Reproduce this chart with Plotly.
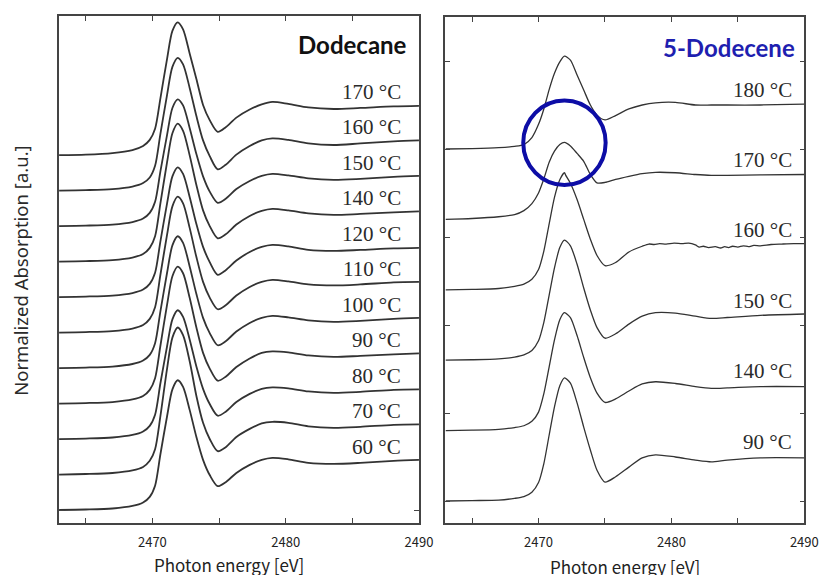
import plotly.graph_objects as go

# ---------------- Data ----------------
# Dodecane (left panel): energy grid [eV] and normalized absorption per temperature
E_left = [2463, 2465, 2467, 2468.5, 2469.3, 2469.8, 2470.2, 2470.6, 2471.1, 2471.5,
          2471.9, 2472.3, 2472.8, 2473.3, 2473.8, 2474.3, 2474.9, 2475.5, 2476.3, 2477.3,
          2478.2, 2479.0, 2480.2, 2481.7, 2483.6, 2485.6, 2488.1, 2490]
dodecane_temps = ["60 °C", "70 °C", "80 °C", "90 °C", "100 °C", "110 °C",
                  "120 °C", "140 °C", "150 °C", "160 °C", "170 °C"]
dodecane_60 = [0, 0.01, 0.03, 0.08, 0.15, 0.26, 0.48, 1.10, 1.85, 2.38, 2.56, 2.43, 1.97, 1.44,
               0.99, 0.69, 0.47, 0.55, 0.73, 0.89, 0.99, 1.03, 1.00, 0.93, 0.91, 0.93, 0.97, 0.99]
dodecane_70 = [0, 0.01, 0.03, 0.08, 0.15, 0.27, 0.50, 1.15, 2.09, 2.70, 2.90, 2.75, 2.23, 1.55,
               1.02, 0.70, 0.46, 0.54, 0.74, 0.90, 1.01, 1.04, 1.02, 0.95, 0.92, 0.94, 0.98, 0.99]
dodecane_80 = [0, 0.01, 0.03, 0.08, 0.15, 0.26, 0.48, 1.10, 1.83, 2.36, 2.54, 2.41, 1.96, 1.43,
               0.99, 0.69, 0.46, 0.54, 0.73, 0.89, 0.99, 1.02, 1.00, 0.94, 0.91, 0.93, 0.97, 0.98]
dodecane_90 = [0, 0.01, 0.03, 0.08, 0.15, 0.27, 0.50, 1.14, 1.95, 2.51, 2.70, 2.57, 2.08, 1.50,
               1.00, 0.69, 0.45, 0.53, 0.72, 0.89, 1.00, 1.03, 1.01, 0.95, 0.92, 0.94, 0.97, 0.99]
dodecane_100 = [0, 0.01, 0.03, 0.08, 0.15, 0.26, 0.49, 1.12, 1.88, 2.42, 2.60, 2.47, 2.00, 1.46,
                0.99, 0.69, 0.45, 0.53, 0.72, 0.89, 0.99, 1.03, 1.00, 0.94, 0.91, 0.93, 0.97, 0.99]
dodecane_110 = [0, 0.01, 0.03, 0.08, 0.15, 0.27, 0.50, 1.14, 1.93, 2.49, 2.68, 2.55, 2.06, 1.49,
                1.00, 0.69, 0.46, 0.54, 0.73, 0.90, 1.00, 1.04, 1.01, 0.95, 0.93, 0.95, 0.99, 1.00]
dodecane_120 = [0, 0.01, 0.03, 0.08, 0.15, 0.26, 0.48, 1.10, 1.85, 2.38, 2.56, 2.43, 1.97, 1.44,
                0.99, 0.69, 0.44, 0.53, 0.72, 0.89, 0.99, 1.03, 1.00, 0.93, 0.91, 0.93, 0.96, 0.97]
dodecane_140 = [0, 0.01, 0.03, 0.08, 0.15, 0.27, 0.50, 1.15, 1.96, 2.53, 2.72, 2.58, 2.09, 1.51,
                1.01, 0.70, 0.46, 0.54, 0.73, 0.90, 1.00, 1.04, 1.01, 0.95, 0.92, 0.94, 0.97, 0.99]
dodecane_150 = [0, 0.01, 0.03, 0.08, 0.15, 0.26, 0.48, 1.08, 1.80, 2.33, 2.50, 2.38, 1.93, 1.42,
                0.98, 0.68, 0.46, 0.54, 0.73, 0.89, 0.99, 1.03, 1.00, 0.94, 0.91, 0.93, 0.97, 0.99]
dodecane_160 = [0, 0.01, 0.03, 0.08, 0.15, 0.26, 0.49, 1.12, 1.89, 2.44, 2.62, 2.49, 2.02, 1.47,
                0.99, 0.68, 0.42, 0.51, 0.71, 0.88, 0.99, 1.03, 1.00, 0.93, 0.90, 0.93, 0.97, 0.99]
dodecane_170 = [0, 0.01, 0.04, 0.10, 0.18, 0.30, 0.52, 1.12, 1.90, 2.45, 2.62, 2.48, 2.00, 1.50,
                0.99, 0.69, 0.46, 0.55, 0.74, 0.90, 1.00, 1.05, 1.01, 0.94, 0.91, 0.93, 0.96, 0.97]
dodecane_spectra = [dodecane_60, dodecane_70, dodecane_80, dodecane_90, dodecane_100, dodecane_110,
                    dodecane_120, dodecane_140, dodecane_150, dodecane_160, dodecane_170]
dodecane_offsets = [0.0, 0.7, 1.4, 2.1, 2.8, 3.5, 4.2, 4.9, 5.6, 6.3, 7.0]

# 5-Dodecene (right panel)
E_right = [2463, 2465, 2467, 2468.2, 2468.9, 2469.5, 2470.0, 2470.4, 2470.8, 2471.2,
           2471.6, 2471.95, 2472.4, 2472.9, 2473.4, 2473.9, 2474.4, 2475.0, 2475.8, 2476.8,
           2477.8, 2478.8, 2480.3, 2481.8, 2483.0, 2484.2, 2486.7, 2490]
E_right_160 = [2463, 2465, 2467, 2468.2, 2468.9, 2469.5, 2470.0, 2470.4, 2470.8, 2471.2,
               2471.6, 2471.95, 2472.05, 2472.4, 2472.9, 2473.4, 2473.9, 2474.4, 2475.0, 2475.8,
               2476.8, 2477.8, 2478.3, 2478.7, 2479.1, 2479.6, 2480.2, 2480.8, 2481.3, 2481.8,
               2482.1, 2482.4, 2482.8, 2483.3, 2483.7, 2484.0, 2484.3, 2484.6, 2485.0, 2485.4,
               2485.8, 2486.2, 2486.7, 2487.5, 2488.3, 2489.2, 2490]
dodecene_temps = ["90 °C", "140 °C", "150 °C", "160 °C", "170 °C", "180 °C"]
dodecene_90 = [0, 0.01, 0.02, 0.06, 0.10, 0.20, 0.42, 0.85, 1.50, 2.14, 2.62, 2.80, 2.68, 2.23,
               1.68, 1.16, 0.70, 0.43, 0.55, 0.77, 0.98, 1.05, 1.00, 0.93, 0.89, 0.93, 0.98, 0.98]
dodecene_140 = [0, 0.01, 0.03, 0.07, 0.11, 0.21, 0.42, 0.84, 1.45, 2.06, 2.52, 2.68, 2.57, 2.16,
                1.66, 1.20, 0.85, 0.64, 0.72, 0.90, 1.06, 1.11, 1.07, 1.00, 0.96, 0.97, 1.00, 1.00]
dodecene_150 = [0, 0.01, 0.03, 0.07, 0.12, 0.22, 0.44, 0.86, 1.48, 2.10, 2.56, 2.73, 2.60, 2.18,
                1.64, 1.14, 0.74, 0.50, 0.60, 0.82, 1.00, 1.08, 1.07, 1.00, 0.95, 0.97, 1.02, 1.05]
dodecene_160 = [0, 0.01, 0.03, 0.08, 0.13, 0.24, 0.46, 0.88, 1.50, 2.10, 2.50, 2.66, 2.60, 2.42,
                2.05, 1.60, 1.15, 0.78, 0.55, 0.62, 0.86, 0.99, 1.04, 1.03, 1.05, 1.04, 1.06, 1.05,
                1.06, 1.02, 0.97, 0.99, 0.96, 0.98, 0.95, 0.98, 0.96, 0.99, 0.97, 1.00, 0.98,
                1.01, 1.00, 1.03, 1.04, 1.05, 1.05]
dodecene_170 = [0, 0.02, 0.06, 0.11, 0.20, 0.36, 0.60, 0.92, 1.30, 1.55, 1.70, 1.75, 1.67, 1.50,
                1.32, 1.02, 0.83, 0.84, 0.91, 0.98, 1.04, 1.07, 1.06, 1.02, 1.00, 1.00, 1.01, 1.02]
dodecene_180 = [0, 0.01, 0.03, 0.06, 0.10, 0.26, 0.56, 0.91, 1.35, 1.72, 1.98, 2.11, 2.02, 1.68,
                1.34, 1.00, 0.77, 0.66, 0.76, 0.91, 1.00, 1.05, 1.06, 1.00, 1.00, 1.00, 1.00, 1.02]
dodecene_spectra = [dodecene_90, dodecene_140, dodecene_150, dodecene_160, dodecene_170, dodecene_180]
dodecene_energies = [E_right, E_right, E_right, E_right_160, E_right, E_right]
dodecene_offsets = [0.0, 1.6, 3.2, 4.8, 6.4, 8.0]

x_tickvals = [2465, 2470, 2475, 2480, 2485, 2490]
x_ticktext = ["", "2470", "", "2480", "", "2490"]

# ---------------- Figure ----------------
PAGE_OFF = 8            # default body margin of the html page
W, H = 838 - PAGE_OFF, 575 - PAGE_OFF
fig = go.Figure()
line_col = "#333333"

for vals, off in zip(dodecane_spectra, dodecane_offsets):
    fig.add_trace(go.Scatter(x=E_left, y=[v + off for v in vals], mode="lines",
                             line=dict(color=line_col, width=1.8, shape="spline", smoothing=0.8),
                             xaxis="x", yaxis="y", showlegend=False, hoverinfo="skip"))
for ev, vals, off in zip(dodecene_energies, dodecene_spectra, dodecene_offsets):
    fig.add_trace(go.Scatter(x=ev, y=[v + off for v in vals], mode="lines",
                             line=dict(color=line_col, width=1.3, shape="spline", smoothing=0.7),
                             xaxis="x2", yaxis="y2", showlegend=False, hoverinfo="skip"))

def px_x(p):
    return (p - PAGE_OFF) / W

def px_y(p):
    return 1 - (p - PAGE_OFF) / H

axis_common = dict(showline=True, linecolor="#444444", linewidth=1.5, mirror="ticks",
                   ticks="inside", ticklen=5, tickwidth=1.2, tickcolor="#444444",
                   showgrid=False, zeroline=False)

fig.update_layout(
    width=W, height=H, margin=dict(l=0, r=0, t=0, b=0),
    paper_bgcolor="white", plot_bgcolor="white",
    xaxis=dict(domain=[px_x(60), px_x(426)], range=[2463, 2490], anchor="y",
               tickvals=x_tickvals, ticktext=x_ticktext, ticklabelstandoff=7,
               tickfont=dict(family="Noto Sans CJK JP", size=13, color="#222222"), **axis_common),
    yaxis=dict(domain=[px_y(523), px_y(16)], range=[-0.256, 9.744], anchor="x",
               tickvals=[0], showticklabels=False, **axis_common),
    xaxis2=dict(domain=[px_x(453), px_x(818)], range=[2463, 2490], anchor="y2",
                tickvals=x_tickvals, ticktext=x_ticktext, ticklabelstandoff=7,
                tickfont=dict(family="Noto Sans CJK JP", size=13, color="#222222"), **axis_common),
    yaxis2=dict(domain=[px_y(523), px_y(17)], range=[-0.5, 11.0], anchor="x2",
                tickvals=[0, 2, 4, 6, 8, 10], showticklabels=False, **axis_common),
)

ann = []
for t, off in zip(dodecane_temps, dodecane_offsets):
    ann.append(dict(x=2488.8, y=off + 1.25, xref="x", yref="y", text=t, showarrow=False,
                    xanchor="right", yanchor="middle",
                    font=dict(family="Liberation Serif", size=21, color="#2a2a2a")))
for t, off in zip(dodecene_temps, dodecene_offsets):
    ann.append(dict(x=2489.2, y=off + 1.35, xref="x2", yref="y2", text=t, showarrow=False,
                    xanchor="right", yanchor="middle",
                    font=dict(family="Liberation Serif", size=21, color="#2a2a2a")))
ann.append(dict(x=px_x(416), y=px_y(45), xref="paper", yref="paper", text="<b>Dodecane</b>",
                showarrow=False, xanchor="right", yanchor="middle",
                font=dict(family="Lato", size=24, color="#111111")))
ann.append(dict(x=px_x(811), y=px_y(47), xref="paper", yref="paper", text="<b>5-Dodecene</b>",
                showarrow=False, xanchor="right", yanchor="middle",
                font=dict(family="Lato", size=24, color="#1f1fb0")))
ann.append(dict(x=px_x(233), y=px_y(564), xref="paper", yref="paper", text="Photon energy [eV]",
                showarrow=False, xanchor="center", yanchor="middle",
                font=dict(family="Noto Sans CJK JP", size=17, color="#222222")))
ann.append(dict(x=px_x(636), y=px_y(566), xref="paper", yref="paper", text="Photon energy [eV]",
                showarrow=False, xanchor="center", yanchor="middle",
                font=dict(family="Noto Sans CJK JP", size=17, color="#222222")))
ann.append(dict(x=px_x(20), y=px_y(270), xref="paper", yref="paper",
                text="Normalized Absorption [a.u.]", textangle=-90,
                showarrow=False, xanchor="center", yanchor="middle",
                font=dict(family="Noto Sans", size=18.5, color="#2a2a2a")))
fig.update_layout(annotations=ann)

# highlight circle on 5-Dodecene panel
fig.add_shape(type="circle", xref="x2", yref="y2",
              x0=2468.85, x1=2475.05, y0=7.18, y1=9.10,
              line=dict(color="#0d0da6", width=4))

fig.write_html("out.html")
